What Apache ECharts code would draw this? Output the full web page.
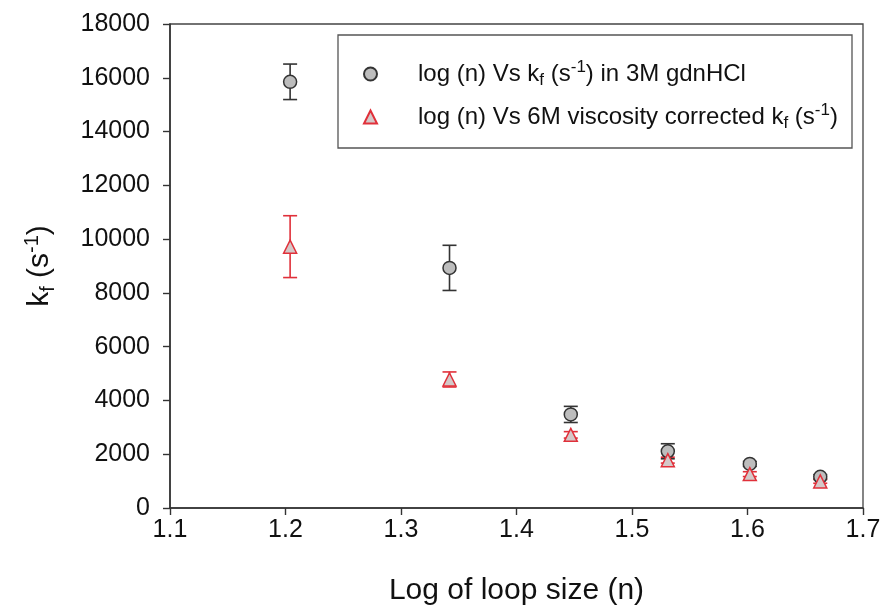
<!DOCTYPE html>
<html>
<head>
<meta charset="utf-8">
<script src="https://cdn.jsdelivr.net/npm/echarts@6/dist/echarts.min.js"></script>
<style>
  html, body { margin: 0; padding: 0; background: #fff; }
  #chart { width: 883px; height: 607px; }
</style>
</head>
<body>
<div id="chart"></div>
<script>
// log of loop size
const logN = [1.204, 1.342, 1.447, 1.531, 1.602, 1.663]
// kf in 3M gdnHCl and its error
const kf3M = [15850, 8930, 3480, 2110, 1640, 1160]
const err3M = [660, 840, 300, 280, 90, 80]
// 6M viscosity corrected kf and its error
const kf6M = [9720, 4780, 2720, 1780, 1260, 990]
const err6M = [1150, 280, 120, 110, 90, 70]

const xTicks = [1.1, 1.2, 1.3, 1.4, 1.5, 1.6, 1.7]
const name3M = 'log (n) Vs kf (s-1) in 3M gdnHCl'
const name6M = 'log (n) Vs 6M viscosity corrected kf (s-1)'

const font = 'Arial, "Liberation Sans", sans-serif'
const red = '#e0303a'
const dark = '#333'

function rows(ys, es) {
    return logN.map((x, i) => [x, ys[i], es[i]])
}

function errorBars(color) {
    return (params, api) => {
        const x = api.value(0)
        const y = api.value(1)
        const e = api.value(2)
        const top = api.coord([x, y + e])
        const bot = api.coord([x, y - e])
        const w = 7
        const style = { stroke: color, lineWidth: 1.6 }
        return {
            type: 'group',
            children: [
                { type: 'line', shape: { x1: top[0], y1: top[1], x2: bot[0], y2: bot[1] }, style },
                { type: 'line', shape: { x1: top[0] - w, y1: top[1], x2: top[0] + w, y2: top[1] }, style },
                { type: 'line', shape: { x1: bot[0] - w, y1: bot[1], x2: bot[0] + w, y2: bot[1] }, style },
            ]
        }
    }
}

const chart = echarts.init(document.getElementById('chart'))

const richText = {
    t: { fontSize: 24, fontFamily: font, color: '#111', lineHeight: 30, padding: [0, 0, 0, 36] },
    n: { fontSize: 24, fontFamily: font, color: '#111', lineHeight: 30 },
    sub: { fontSize: 17, fontFamily: font, color: '#111', verticalAlign: 'bottom', lineHeight: 30 },
    sup: { fontSize: 17, fontFamily: font, color: '#111', verticalAlign: 'top', lineHeight: 26 },
}

chart.setOption({
    backgroundColor: '#fff',
    animation: false,
    grid: {
        left: 170,
        right: 20,
        top: 24,
        bottom: 99,
        outerBoundsMode: 'none',
        containLabel: false,
        show: true,
        borderColor: '#444',
        borderWidth: 1.3,
    },
    graphic: [{
        type: 'rect',
        shape: { x: 338, y: 35, width: 514, height: 113 },
        style: { fill: 'none', stroke: '#555', lineWidth: 1.3 },
        z: 10,
    }],
    legend: {
        orient: 'vertical',
        left: 358,
        top: 54,
        itemWidth: 13,
        itemHeight: 13,
        itemGap: 13,
        data: [name3M, name6M],
        formatter: name => name === name3M
            ? '{t|log (n) Vs k}{sub|f}{n| (s}{sup|-1}{n|) in 3M gdnHCl}'
            : '{t|log (n) Vs 6M viscosity corrected k}{sub|f}{n| (s}{sup|-1}{n|)}',
        textStyle: { rich: richText },
    },
    xAxis: {
        type: 'value',
        min: 1.1,
        max: 1.7,
        interval: 0.1,
        name: 'Log of loop size (n)',
        nameLocation: 'middle',
        nameGap: 68,
        nameTextStyle: { fontSize: 30, fontFamily: font, color: '#111' },
        axisLine: { lineStyle: { color: dark, width: 1.6 } },
        axisTick: { length: 7, lineStyle: { color: dark, width: 1.4 } },
        axisLabel: {
            fontSize: 25, fontFamily: font, color: '#111', margin: 10,
            formatter: v => xTicks.find(t => Math.abs(t - v) < 1e-6).toFixed(1),
        },
        splitLine: { show: false },
    },
    yAxis: {
        type: 'value',
        min: 0,
        max: 18000,
        interval: 2000,
        name: '{k|k}{f|f}{k| (s}{s|-1}{k|)}',
        nameLocation: 'middle',
        nameGap: 112,
        nameRotate: 90,
        nameTextStyle: {
            rich: {
                k: { fontSize: 30, fontFamily: font, color: '#111', lineHeight: 36 },
                f: { fontSize: 20, fontFamily: font, color: '#111', verticalAlign: 'bottom', lineHeight: 36 },
                s: { fontSize: 20, fontFamily: font, color: '#111', verticalAlign: 'top', lineHeight: 32 },
            }
        },
        axisLine: { show: true, lineStyle: { color: dark, width: 1.6 } },
        axisTick: { show: true, length: 7, lineStyle: { color: dark, width: 1.4 } },
        axisLabel: { fontSize: 25, fontFamily: font, color: '#111', margin: 20, formatter: v => String(v) },
        splitLine: { show: false },
    },
    series: [
        {
            type: 'custom',
            renderItem: errorBars(dark),
            data: rows(kf3M, err3M),
            z: 2,
            silent: true,
        },
        {
            type: 'custom',
            renderItem: errorBars(red),
            data: rows(kf6M, err6M),
            z: 2,
            silent: true,
        },
        {
            name: name3M,
            type: 'scatter',
            symbol: 'circle',
            symbolSize: 13,
            data: rows(kf3M, err3M).map(r => [r[0], r[1]]),
            itemStyle: { color: '#bdbdbd', borderColor: dark, borderWidth: 1.5, opacity: 1 },
            z: 4,
        },
        {
            name: name6M,
            type: 'scatter',
            symbol: 'triangle',
            symbolSize: 13,
            data: rows(kf6M, err6M).map(r => [r[0], r[1]]),
            itemStyle: { color: '#d4c8c8', borderColor: red, borderWidth: 1.5, opacity: 1 },
            z: 5,
        },
    ],
})
</script>
</body>
</html>
